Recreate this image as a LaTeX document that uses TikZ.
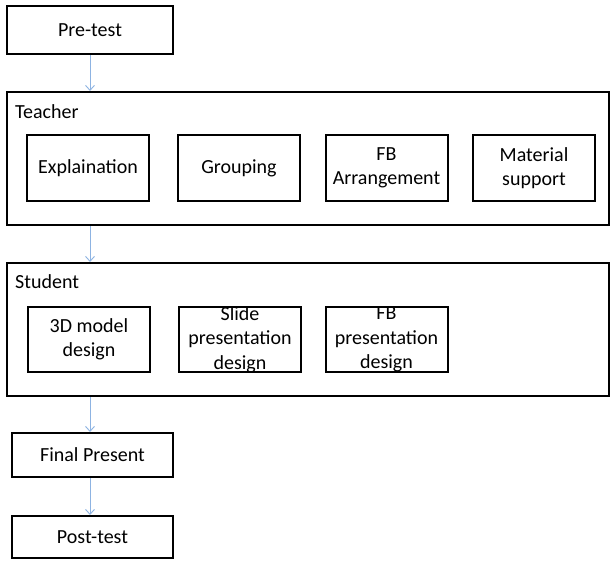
\documentclass[tikz,border=0pt]{standalone}
\usepackage{fontspec}
\setmainfont{Carlito}
\usetikzlibrary{arrows.meta}
\definecolor{flowblue}{HTML}{8DB3E2}
\begin{document}
\begin{tikzpicture}[x=1pt,y=-1pt,
  every node/.style={font=\fontsize{20}{24.5}\selectfont},
  frame/.style={draw=black,line width=2pt,rectangle,inner sep=0pt},
  stagebox/.style={frame,minimum width=166pt,minimum height=48pt},
  groupbox/.style={frame,minimum width=602pt,minimum height=133pt},
  itembox/.style={frame,minimum width=122pt,minimum height=66pt,align=center},
  title/.style={anchor=west,inner sep=0pt},
  flow/.style={draw=flowblue,line width=0.9pt,-{Straight Barb[length=5pt,width=9pt]}}]
\useasboundingbox[fill=white] (0,0) rectangle (612,561);

% sequence boxes
\node[stagebox] (pre) at (90,30) {Pre-test};
\node[stagebox,minimum width=161pt,minimum height=44pt] (final) at (92.5,455) {Final Present};
\node[stagebox,minimum width=161pt,minimum height=42pt] (post) at (92.5,537) {Post-test};

% teacher group
\node[groupbox] (teacher) at (308,158.5) {};
\node[title] (tlabel) at (15,112) {Teacher};
\node[itembox] (expl) at (88,168) {Explaination};
\node[itembox] (group) at (239,168) {Grouping};
\node[itembox] (fbarr) at (386.5,168) {FB\\Arrangement};
\node[itembox] (mat) at (534,168) {Material\\support};

% student group
\node[groupbox] (student) at (308,329.5) {};
\node[title] (slabel) at (15,282) {Student};
\node[itembox,minimum height=65pt] (model) at (89,339.5) {3D model\\design};
\node[itembox,minimum height=65pt,
  label={[align=center,inner sep=0pt]center:Slide\\presentation\\design}] (slide) at (240,339.5) {};
\node[itembox,minimum height=65pt,
  label={[align=center,inner sep=0pt]center:FB\\presentation\\design}] (fbpres) at (386.5,339.5) {};

% connectors
\draw[flow] (pre.south) -- (pre.south |- teacher.north);
\draw[flow] (pre.south |- teacher.south) -- (pre.south |- student.north);
\draw[flow] (pre.south |- student.south) -- (pre.south |- final.north);
\draw[flow] (pre.south |- final.south) -- (pre.south |- post.north);
\end{tikzpicture}
\end{document}
